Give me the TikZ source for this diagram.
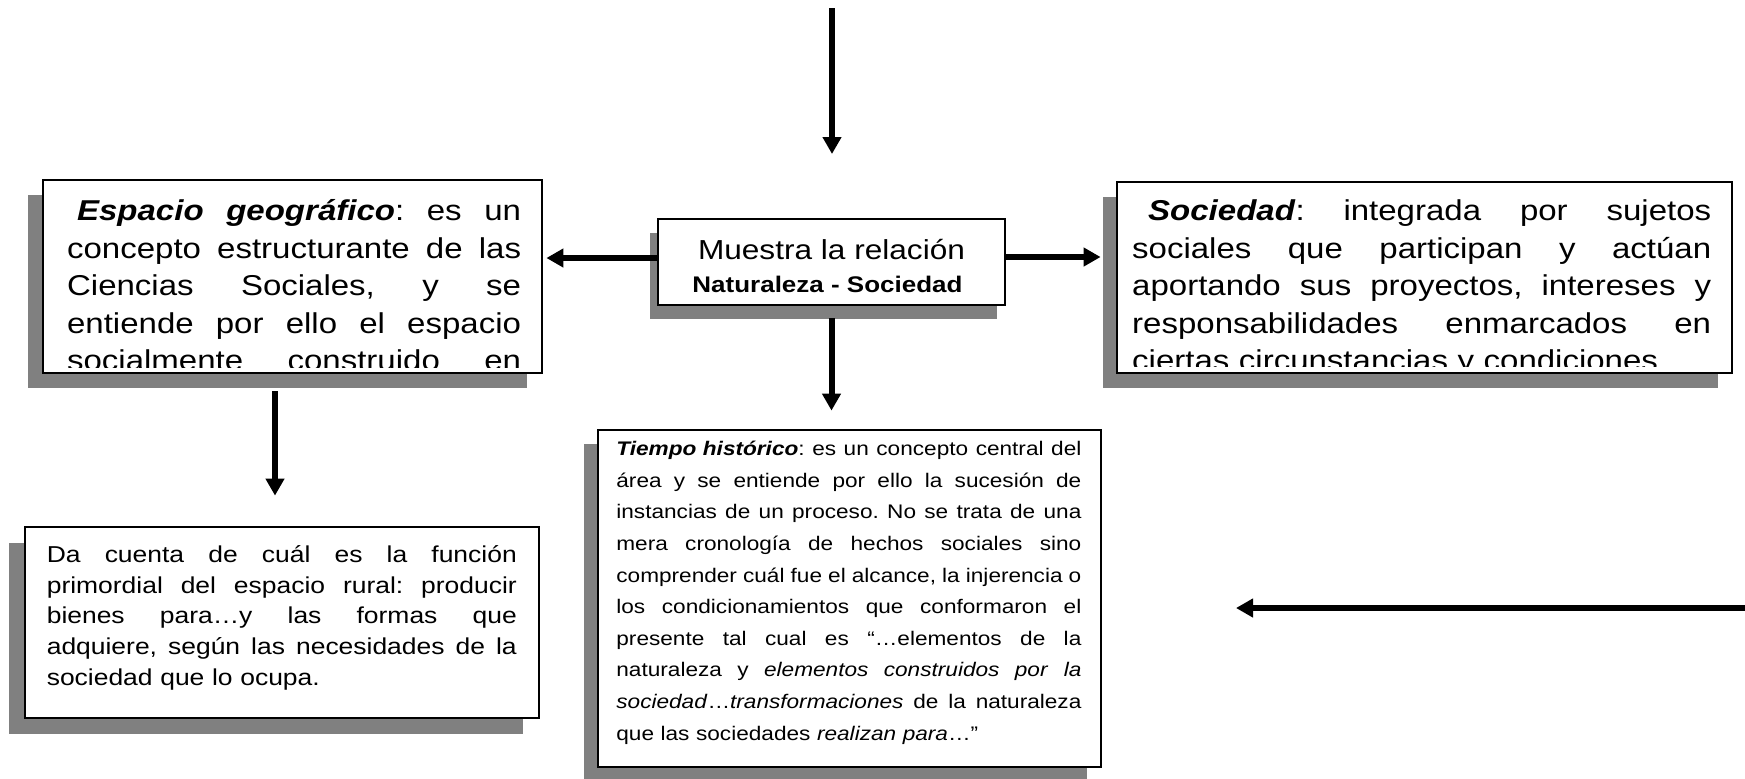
\documentclass[tikz,border=0pt]{standalone}
\usepackage{fontspec}
\setmainfont[FakeStretch=1.15]{Liberation Sans}
\usetikzlibrary{arrows.meta,shadows}
\definecolor{shadowgray}{HTML}{808080}
\newdimen\jlw
\def\jlx#1 #2\jlstop{#1\ifx\relax#2\relax\else\hfil\jlx#2\jlstop\fi}
\newcommand\jl[1]{\hbox to \jlw{\strut\jlx#1 \jlstop}\par}
\newcommand\lastl[1]{\hbox{\strut#1}\par}
\newcommand\bitext[1]{\textbf{\textit{#1}}}
\frenchspacing
\begin{document}
\frenchspacing
\begin{tikzpicture}[x=0.5pt,y=-0.5pt,
  box/.style={draw=black, line width=1.4pt, fill=white, rectangle, inner sep=0pt},
  shad/.style 2 args={drop shadow={shadow xshift=#1, shadow yshift=#2, fill=shadowgray, opacity=1}},
  arr/.style={line width=3pt, -{Triangle[width=9pt,length=8.5pt]}},
  txt/.style={anchor=north west, inner sep=0pt, text width=#1}]
\useasboundingbox (0,0) rectangle (1745,778);

% boxes
\node[box, shad={-7.5pt}{-7.5pt}, minimum width=249.5pt, minimum height=96.5pt] (esp) at (292.5,276.5) {};
\node[box, shad={-4pt}{-6.75pt}, minimum width=173.5pt, minimum height=43pt] (mid) at (831.5,262) {};
\node[box, shad={-7pt}{-7.25pt}, minimum width=307.5pt, minimum height=95.5pt] (soc) at (1424.5,277.5) {};
\node[box, shad={-8pt}{-7.75pt}, minimum width=257pt, minimum height=95.5pt] (dac) at (282,622.5) {};
\node[box, shad={-7pt}{-7pt}, minimum width=251.5pt, minimum height=168.5pt] (tie) at (849.5,598.5) {};

% Espacio text (clipped)
\begin{scope}
\clip (46,183) rectangle (539,367);
\node[txt=227pt, font=\fontsize{14.35}{18.8}\selectfont] (esptxt) at (66.7,193.7) {\parindent0pt\jlw=227pt
\jl{\hspace{5pt}\bitext{Espacio}\hspace{0pt} \bitext{geográfico}: es un}
\jl{concepto estructurante de las}
\jl{Ciencias Sociales, y se}
\jl{entiende por ello el espacio}
\jl{socialmente construido en}};
\end{scope}

% Sociedad text (clipped)
\begin{scope}
\clip (1120,185) rectangle (1729,366);
\node[txt=289.5pt, font=\fontsize{14.35}{18.8}\selectfont] (soctxt) at (1131.8,193.7) {\parindent0pt\jlw=289.5pt
\jl{\hspace{8pt}\bitext{Sociedad}: integrada por sujetos}
\jl{sociales que participan y actúan}
\jl{aportando sus proyectos, intereses y}
\jl{responsabilidades enmarcados en}
\lastl{ciertas circunstancias y condiciones}};
\end{scope}

% middle text
\node[anchor=base, inner sep=0pt, font=\fontsize{13.74}{17}\selectfont] (midtxt1) at (831.5,259) {Muestra la relación};
\node[anchor=base, inner sep=0pt, font=\fontsize{11.3}{14}\selectfont\bfseries] (midtxt2) at (827.5,292) {Naturaleza - Sociedad};

% Da cuenta text
\node[txt=235pt, font=\fontsize{11.5}{15.4}\selectfont] (dactxt) at (46.4,540.4) {\parindent0pt\jlw=235pt
\jl{Da cuenta de cuál es la función}
\jl{primordial del espacio rural: producir}
\jl{bienes para…y las formas que}
\jl{adquiere, según las necesidades de la}
\lastl{sociedad que lo ocupa.}};

% Tiempo text
\node[txt=232.5pt, font=\fontsize{9.83}{15.83}\selectfont] (tietxt) at (616,432.8) {\parindent0pt\jlw=232.5pt
\jl{\bitext{Tiempo histórico}: es un concepto central del}
\jl{área y se entiende por ello la sucesión de}
\jl{instancias de un proceso. No se trata de una}
\jl{mera cronología de hechos sociales sino}
\jl{comprender cuál fue el alcance, la injerencia o}
\jl{los condicionamientos que conformaron el}
\jl{presente tal cual es “…elementos de la}
\jl{naturaleza y \textit{elementos} \textit{construidos} \textit{por} \textit{la}}
\jl{\textit{sociedad}…\textit{transformaciones} de la naturaleza}
\lastl{que las sociedades \textit{realizan para}…”}};

% free-end coordinates
\coordinate (topstart) at (832,8);
\coordinate (topend) at (832,154);
\coordinate (rstart) at (1745,608);
\coordinate (rend) at (1236,608);

% connectors
\draw[arr] (topstart) -- (topend);
\draw[arr, shorten >=1.5pt] ([yshift=2pt]mid.west) -- ([yshift=2pt]mid.west -| esp.east);
\draw[arr, shorten >=7.5pt] ([yshift=2.5pt]mid.east) -- ([yshift=2.5pt]mid.east -| soc.west);
\draw[arr, shorten <=6pt, shorten >=9pt] (mid.south) -- (mid.south |- tie.north);
\draw[arr, shorten <=8.5pt, shorten >=15pt] ([xshift=-8.75pt]esp.south) -- ([xshift=-8.75pt]esp.south |- dac.north);
\draw[arr] (rstart) -- (rend);
\end{tikzpicture}
\end{document}
